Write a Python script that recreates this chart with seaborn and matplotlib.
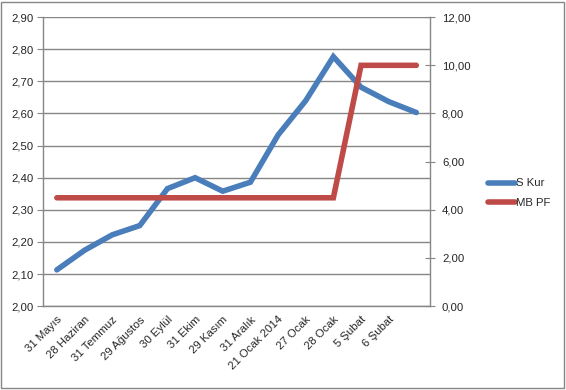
import numpy as np
import pandas as pd
import matplotlib
matplotlib.use("Agg")
import matplotlib.pyplot as plt
import seaborn as sns
from matplotlib.ticker import FuncFormatter, FixedLocator
from matplotlib.patches import Rectangle

# Data
dates = ['31 Mayıs', '28 Haziran', '31 Temmuz', '29 Ağustos', '30 Eylül', '31 Ekim',
         '29 Kasım', '31 Aralık', '21 Ocak 2014', '27 Ocak', '28 Ocak', '5 Şubat',
         '6 Şubat', '']
s_kur = [2.113, 2.174, 2.222, 2.251, 2.366, 2.400, 2.358, 2.386, 2.533, 2.640,
         2.777, 2.682, 2.637, 2.603]
mb_pf = [4.5, 4.5, 4.5, 4.5, 4.5, 4.5, 4.5, 4.5, 4.5, 4.5, 4.5, 10.0, 10.0, 10.0]

df = pd.DataFrame({'pos': np.arange(len(dates)), 'S Kur': s_kur, 'MB PF': mb_pf})

sns.set_style("white")
plt.rcParams['font.family'] = ['Liberation Sans', 'DejaVu Sans']

blue = '#4a7ebb'
red = '#be4b48'
grey = '#868686'
fs = 8.2

fig = plt.figure(figsize=(5.66, 3.90), dpi=100)
ax = fig.add_axes([0.076, 0.215, 0.684, 0.741])
ax2 = ax.twinx()

# secondary series drawn on top, like the original
sns.lineplot(data=df, x='pos', y='S Kur', ax=ax, color=blue, linewidth=4.0,
             solid_capstyle='round', solid_joinstyle='miter', label='S Kur', legend=False)
sns.lineplot(data=df, x='pos', y='MB PF', ax=ax2, color=red, linewidth=4.0,
             solid_capstyle='round', solid_joinstyle='miter', label='MB PF', legend=False)

comma2 = FuncFormatter(lambda v, p: f"{v:.2f}".replace('.', ','))

ax.set_ylim(2.0, 2.9)
ax.set_yticks(np.arange(2.0, 2.901, 0.1))
ax.yaxis.set_major_formatter(comma2)
ax.yaxis.grid(True, color=grey, linewidth=1.0)
ax.set_axisbelow(True)

ax2.set_ylim(0, 12)
ax2.set_yticks(np.arange(0, 12.01, 2))
ax2.yaxis.set_major_formatter(comma2)

ax.set_xlim(-0.5, len(dates) - 0.5)
ax.set_xticks(df['pos'])
ax.set_xticklabels(dates, rotation=45, ha='right', rotation_mode='anchor')
ax.xaxis.set_minor_locator(FixedLocator(np.arange(-0.5, len(dates), 1.0)))
ax.tick_params(axis='x', which='major', length=0, pad=6, labelsize=fs)
ax.tick_params(axis='x', which='minor', length=4, color=grey, direction='out')
ax.tick_params(axis='y', length=4, color=grey, direction='out', labelsize=fs, pad=3)
ax2.tick_params(axis='y', length=7, color=grey, direction='inout', labelsize=fs, pad=5)
ax.set_xlabel('')
ax.set_ylabel('')
ax2.set_ylabel('')

for a in (ax, ax2):
    for side in ('left', 'right', 'bottom'):
        a.spines[side].set_color(grey)
        a.spines[side].set_linewidth(1.0)
    a.spines['top'].set_visible(False)
ax.spines['right'].set_visible(False)
ax2.spines['left'].set_visible(False)
ax2.spines['bottom'].set_visible(False)

h1, l1 = ax.get_legend_handles_labels()
h2, l2 = ax2.get_legend_handles_labels()
fig.legend(h1 + h2, l1 + l2, loc='center left', bbox_to_anchor=(0.855, 0.505),
           frameon=False, fontsize=fs, handlelength=2.3, handletextpad=0.1,
           labelspacing=0.8, borderaxespad=0)

fig.patches.append(Rectangle((0.002, 0.004), 0.994, 0.992, transform=fig.transFigure,
                             fill=False, edgecolor=grey, linewidth=1.0))

fig.savefig('out.png', dpi=100)
